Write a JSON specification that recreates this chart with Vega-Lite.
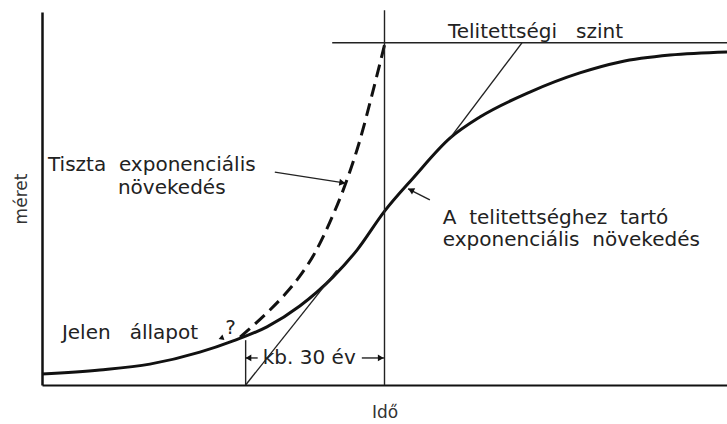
{
  "$schema": "https://vega.github.io/schema/vega-lite/v6.json",
  "width": 685,
  "height": 373,
  "autosize": {"type": "none"},
  "padding": {"left": 42, "top": 12, "right": 0, "bottom": 39},
  "background": "white",
  "config": {
    "view": {"stroke": null},
    "font": "DejaVu Sans",
    "axis": {"labels": false, "ticks": false, "grid": false, "domainColor": "#111", "domainWidth": 2.5, "titleFont": "DejaVu Sans", "titleFontSize": 17, "titleFontWeight": "normal", "titleColor": "#333"}
  },
  "datasets": {
    "growth": [
      {"t": -44, "v": 3.2}, {"t": -31.5, "v": 4.4}, {"t": -20.7, "v": 6.1}, {"t": -9.9, "v": 9.6},
      {"t": -2.7, "v": 12.9}, {"t": 4.6, "v": 17.0}, {"t": 11.7, "v": 23.1}, {"t": 18.9, "v": 31.6},
      {"t": 24.1, "v": 39.5}, {"t": 29.9, "v": 50.6}, {"t": 36.2, "v": 60.5}, {"t": 44.2, "v": 72.2},
      {"t": 50.6, "v": 78.3}, {"t": 61.4, "v": 85.6}, {"t": 72.2, "v": 91.2}, {"t": 80.9, "v": 94.4},
      {"t": 91.7, "v": 96.4}, {"t": 104, "v": 97.3}
    ],
    "pure": [
      {"t": -1.2, "v": 14.0}, {"t": 2.0, "v": 17.8}, {"t": 5.3, "v": 22.0}, {"t": 8.5, "v": 26.5},
      {"t": 11.7, "v": 31.8}, {"t": 15.0, "v": 38.7}, {"t": 18.2, "v": 47.6}, {"t": 21.5, "v": 58.5},
      {"t": 24.7, "v": 71.6}, {"t": 27.3, "v": 84.8}, {"t": 30.1, "v": 99.9}
    ],
    "segments": [
      {"name": "most", "t": 30, "v": 0, "t2": 30, "v2": 109.5},
      {"name": "telitettség", "t": 18.7, "v": 100, "t2": 104, "v2": 100},
      {"name": "érintő alsó", "t": 0, "v": 0, "t2": 19.7, "v2": 33.5},
      {"name": "érintő felső", "t": 44.2, "v": 72.2, "t2": 59.7, "v2": 100},
      {"name": "30 év jel", "t": 0, "v": 0, "t2": 0, "v2": 13.1},
      {"name": "30 év nyíl bal", "t": 0, "v": 7.9, "t2": 2.6, "v2": 7.9},
      {"name": "30 év nyíl jobb", "t": 25.1, "v": 7.9, "t2": 29.9, "v2": 7.9},
      {"name": "tiszta mutató", "t": 6.3, "v": 62.2, "t2": 21.6, "v2": 59.0},
      {"name": "telitett mutató", "t": 39.8, "v": 54.1, "t2": 35.1, "v2": 57.3}
    ],
    "labels": [
      {"t": 43.7, "v": 103.2, "text": "Telitettségi\u00a0\u00a0 szint"},
      {"t": -42.7, "v": 64.3, "text": "Tiszta\u00a0 exponenciális"},
      {"t": -27.6, "v": 57.6, "text": "növekedés"},
      {"t": 42.6, "v": 48.8, "text": "A\u00a0 telitettséghez\u00a0 tartó"},
      {"t": 42.6, "v": 42.4, "text": "exponenciális\u00a0 növekedés"},
      {"t": -39.7, "v": 15.3, "text": "Jelen\u00a0\u00a0 állapot"},
      {"t": -4.4, "v": 16.6, "text": "?"},
      {"t": 3.7, "v": 7.9, "text": "kb. 30 év"}
    ]
  },
  "layer": [
    {
      "data": {"name": "growth"},
      "mark": {"type": "line", "color": "#111", "strokeWidth": 3, "interpolate": "monotone"},
      "encoding": {
        "x": {"field": "t", "type": "quantitative", "scale": {"domain": [-44, 104], "nice": false, "zero": false}, "axis": {"title": "Idő", "titlePadding": 19, "domainWidth": 2}},
        "y": {"field": "v", "type": "quantitative", "scale": {"domain": [0, 109], "nice": false, "zero": false}, "axis": {"title": "méret", "titlePadding": 12}}
      }
    },
    {
      "data": {"name": "pure"},
      "mark": {"type": "line", "color": "#111", "strokeWidth": 3, "strokeDash": [13, 7], "interpolate": "monotone"},
      "encoding": {
        "x": {"field": "t", "type": "quantitative"},
        "y": {"field": "v", "type": "quantitative"}
      }
    },
    {
      "data": {"name": "segments"},
      "mark": {"type": "rule", "color": "#222", "strokeWidth": 1.4},
      "encoding": {
        "x": {"field": "t", "type": "quantitative"},
        "y": {"field": "v", "type": "quantitative"},
        "x2": {"field": "t2"},
        "y2": {"field": "v2"}
      }
    },
    {
      "data": {"values": [{"t": 0.6, "v": 7.9}]},
      "mark": {"type": "point", "shape": "triangle-left", "filled": true, "color": "#111", "size": 45, "opacity": 1},
      "encoding": {"x": {"field": "t", "type": "quantitative"}, "y": {"field": "v", "type": "quantitative"}}
    },
    {
      "data": {"values": [{"t": 29.2, "v": 7.9}]},
      "mark": {"type": "point", "shape": "triangle-right", "filled": true, "color": "#111", "size": 45, "opacity": 1},
      "encoding": {"x": {"field": "t", "type": "quantitative"}, "y": {"field": "v", "type": "quantitative"}}
    },
    {
      "data": {"values": [{"t": 20.9, "v": 59.1}]},
      "mark": {"type": "point", "shape": "triangle-right", "filled": true, "color": "#111", "size": 50, "angle": 9, "opacity": 1},
      "encoding": {"x": {"field": "t", "type": "quantitative"}, "y": {"field": "v", "type": "quantitative"}}
    },
    {
      "data": {"values": [{"t": 35.7, "v": 57.0}]},
      "mark": {"type": "point", "shape": "triangle-left", "filled": true, "color": "#111", "size": 50, "angle": 27, "opacity": 1},
      "encoding": {"x": {"field": "t", "type": "quantitative"}, "y": {"field": "v", "type": "quantitative"}}
    },
    {
      "data": {"values": [{"t": -5.0, "v": 13.6}]},
      "mark": {"type": "point", "shape": "triangle-right", "filled": true, "color": "#111", "size": 35, "angle": 40, "opacity": 1},
      "encoding": {"x": {"field": "t", "type": "quantitative"}, "y": {"field": "v", "type": "quantitative"}}
    },
    {
      "data": {"name": "labels"},
      "mark": {"type": "text", "align": "left", "baseline": "middle", "font": "DejaVu Sans", "fontSize": 20, "color": "#222"},
      "encoding": {
        "x": {"field": "t", "type": "quantitative"},
        "y": {"field": "v", "type": "quantitative"},
        "text": {"field": "text"}
      }
    }
  ]
}
